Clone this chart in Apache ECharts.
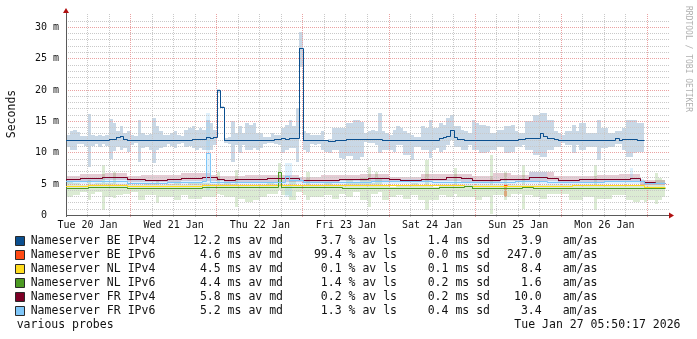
<!DOCTYPE html>
<html><head><meta charset="utf-8">
<script src="https://cdn.jsdelivr.net/npm/echarts@6/dist/echarts.min.js"></script>
<style>html,body{margin:0;padding:0;background:#fff}#c{width:697px;height:339px}</style>
</head><body><div id="c"></div>
<script>
const _ = null;
// time axis in hours since Tue 20 Jan 00:00; one value per hour starting at START_HOUR
const START_HOUR = 6;
const END_HOUR = 174;
const Y_MAX = 32.3;
const dayLabels = ['Tue 20 Jan','Wed 21 Jan','Thu 22 Jan','Fri 23 Jan','Sat 24 Jan','Sun 25 Jan','Mon 26 Jan'];
const yTickValues = [0, 5, 10, 15, 20, 25, 30];

const seriesNames = ['Nameserver BE IPv4','Nameserver BE IPv6','Nameserver NL IPv4','Nameserver NL IPv6','Nameserver FR IPv4','Nameserver FR IPv6'];
const seriesColors = ['#0b4f8f','#ff4a14','#ffdc1e','#4c9a23','#7d0026','#7fc6f8'];
const avgMedianMs = [12.2, 4.6, 4.5, 4.4, 5.8, 5.2];
const avgLossPct = [3.7, 99.4, 0.1, 1.4, 0.2, 1.3];
const sdMs = [1.4, 0.0, 0.1, 0.2, 0.2, 0.4];
const amas = [3.9, 247.0, 8.4, 1.6, 10.0, 3.4];
const footerLeft = 'various probes';
const footerRight = 'Tue Jan 27 05:50:17 2026';
const yAxisTitle = 'Seconds';
const watermark = 'RRDTOOL / TOBI OETIKER';

// hourly medians (ms)
const medBEv4 = [
11.93,11.93,11.93,11.93,12.04,12.04,12.04,12.04,12.04,12.04,12.04,12.04,
12.15,12.15,12.4,12.6,12.2,11.95,11.9,11.9,11.9,11.9,11.9,11.9,
11.9,11.9,11.9,11.9,12.04,12.04,12.04,12.04,12.04,12.04,12.04,12.15,
12.15,12.15,12.15,12.4,12.3,12.4,19.9,17.25,11.9,11.9,11.9,11.9,
11.9,11.9,11.9,12.0,12.0,12.0,12.0,12.0,12.0,12.0,12.15,12.15,
12.3,12.2,12.3,12.3,12.3,26.65,11.9,11.9,11.9,11.9,11.9,12.0,
12.0,11.85,11.85,12.0,12.0,12.0,12.1,12.1,12.1,12.1,12.15,12.15,
12.15,12.15,12.15,12.15,12.04,12.04,11.93,11.93,11.93,11.93,11.93,11.93,
11.93,11.93,11.93,12.04,12.04,12.04,12.04,12.04,12.25,12.4,12.6,13.5,
12.4,12.15,12.15,11.93,11.93,11.93,11.93,11.93,11.93,11.93,11.93,11.93,
11.93,11.93,12.04,12.04,12.0,12.04,12.15,12.15,12.35,12.35,12.35,12.35,
13.05,12.6,12.35,12.35,12.15,11.93,11.93,11.93,11.93,11.93,11.93,11.93,
11.93,11.93,11.93,12.04,12.04,12.04,12.04,12.04,12.04,12.25,12.04,12.15,
12.15,12.15,12.15,12.04,12.04,_,_,_,_,_,_,_];
const medBEv6 = [
_,_,_,_,_,_,_,_,_,_,_,_, _,_,_,_,_,_,_,_,_,_,_,_,
_,_,_,_,_,_,_,_,_,_,_,_, _,_,_,_,_,_,_,_,_,_,_,_,
_,_,_,_,_,_,_,_,_,_,_,_, _,_,_,_,_,_,_,_,_,_,_,_,
_,_,_,_,_,_,_,_,_,_,_,_, _,_,_,_,_,_,_,_,_,_,_,_,
_,_,_,_,_,_,_,_,_,_,_,_, _,_,_,_,_,_,_,_,_,_,_,_,
_,_,4.75,_,_,_,_,_,_,_,_,_, _,_,_,_,_,_,_,_,_,_,_,_,
_,_,_,_,_,_,_,_,_,_,_,_, _,_,_,_,_,_,_,_,_,_,_,_];
const medNLv4 = [
4.6,4.6,4.6,4.6,4.6,4.6,4.75,4.75,4.75,4.75,4.75,4.75,
4.75,4.75,4.75,4.75,4.75,4.6,4.6,4.6,4.6,4.6,4.6,4.6,
4.6,4.6,4.6,4.6,4.6,4.6,4.6,4.6,4.6,4.6,4.6,4.6,
4.6,4.6,4.72,4.72,4.72,4.72,4.72,4.72,4.72,4.72,4.72,4.72,
4.72,4.72,4.72,4.72,4.72,4.72,4.72,4.72,4.72,4.72,4.72,4.72,
4.72,4.72,4.72,4.72,4.72,4.72,4.72,4.72,4.72,4.72,4.72,4.72,
4.72,4.72,4.72,4.72,4.72,4.72,4.72,4.72,4.75,4.75,4.75,4.75,
4.75,4.75,4.75,4.75,4.75,4.75,4.75,4.75,4.75,4.75,4.75,4.75,
4.75,4.75,4.75,4.75,4.75,4.75,4.75,4.75,4.75,4.75,4.75,4.75,
4.75,4.75,4.75,4.7,4.7,4.7,4.7,4.7,4.7,4.7,4.7,4.7,
4.7,4.7,4.7,4.7,4.7,4.7,4.7,4.7,4.7,4.7,4.7,4.7,
4.7,4.7,4.7,4.7,4.7,4.7,4.7,4.7,4.7,4.8,4.8,4.8,
4.8,4.8,4.8,4.8,4.8,4.8,4.8,4.8,4.8,4.8,4.8,4.8,
4.8,4.8,4.8,4.8,4.8,4.5,4.5,4.5,4.5,4.5,4.5,_];
const medNLv6 = [
4.33,4.33,4.33,4.33,4.33,4.33,4.49,4.49,4.49,4.49,4.49,4.49,
4.49,4.49,4.49,4.49,4.49,4.33,4.33,4.33,4.33,4.33,4.33,4.33,
4.33,4.33,4.33,4.33,4.33,4.33,4.33,4.33,4.33,4.33,4.33,4.33,
4.33,4.33,4.49,4.49,4.49,4.49,4.4,4.4,4.4,4.4,4.4,4.4,
4.4,4.4,4.4,4.4,4.4,4.4,4.4,4.4,4.4,4.4,4.4,6.8,
4.4,4.4,4.4,4.4,4.4,4.4,4.4,4.4,4.4,4.4,4.4,4.4,
4.4,4.4,4.4,4.4,4.4,4.33,4.33,4.33,4.33,4.33,4.33,4.33,
4.33,4.33,4.33,4.33,4.33,4.33,4.33,4.33,4.33,4.33,4.33,4.33,
4.33,4.33,4.33,4.33,4.33,4.33,4.33,4.33,4.44,4.44,4.44,4.44,
4.44,4.44,4.44,4.6,4.6,4.33,4.33,4.33,4.33,4.33,4.33,4.33,
4.33,4.33,4.33,4.33,4.33,4.33,4.33,4.5,4.5,4.5,4.33,4.33,
4.33,4.33,4.33,4.33,4.33,4.33,4.33,4.33,4.33,4.33,4.33,4.33,
4.33,4.33,4.33,4.33,4.33,4.33,4.33,4.33,4.33,4.33,4.33,4.33,
4.33,4.33,4.33,4.33,4.33,4.3,4.3,4.3,4.3,4.3,4.3,_];
const medFRv4 = [
5.77,5.77,5.77,5.77,5.93,5.93,5.93,5.93,5.93,5.93,6.09,6.09,
6.09,6.09,6.09,6.09,6.09,5.77,5.77,5.77,5.77,5.77,5.66,5.66,
5.66,5.66,5.66,5.66,5.77,5.77,5.77,5.77,5.87,5.87,5.87,5.87,
5.87,5.87,6.09,6.09,6.09,6.09,5.77,5.77,5.6,5.6,5.6,5.77,
5.77,5.77,5.77,5.77,5.77,5.77,5.77,5.77,5.9,5.9,5.9,5.9,
5.9,5.9,5.9,5.9,5.9,5.55,5.55,5.55,5.55,5.66,5.66,5.66,
5.66,5.66,5.66,5.66,5.77,5.77,5.77,5.77,5.77,5.77,5.77,5.77,
5.87,5.87,5.87,5.87,5.87,5.87,5.72,5.72,5.72,5.6,5.6,5.6,
5.6,5.6,5.6,5.8,5.8,5.8,5.8,5.8,5.8,5.8,6.09,6.09,
6.09,6.09,5.87,5.87,5.87,5.66,5.66,5.66,5.55,5.55,5.55,5.55,
5.55,5.72,5.72,5.72,5.72,5.82,5.82,5.82,5.82,6.09,6.09,6.09,
6.09,6.09,5.87,5.87,5.87,5.66,5.66,5.66,5.66,5.66,5.66,5.77,
5.77,5.77,5.77,5.77,5.77,5.77,5.82,5.82,5.82,5.82,5.82,5.82,
5.82,5.9,5.9,5.9,5.4,5.2,5.2,5.2,5.1,5.1,5.1,_];
const medFRv6 = [
5.39,5.39,5.39,5.39,5.39,5.39,5.5,5.5,5.5,5.5,5.5,5.5,
5.5,5.5,5.5,5.5,5.5,5.13,5.13,5.13,5.13,5.13,5.13,5.13,
5.13,5.13,5.13,5.13,5.24,5.24,5.24,5.24,5.24,5.24,5.24,5.24,
5.24,5.24,5.4,9.92,5.34,5.34,5.34,5.34,5.24,5.24,5.24,5.24,
5.24,5.24,5.24,5.24,5.24,5.24,5.24,5.24,5.24,5.24,5.24,5.24,
5.24,6.19,5.55,5.55,5.55,5.55,5.3,5.3,5.3,5.3,5.3,5.3,
5.3,5.3,5.3,5.3,5.3,5.34,5.34,5.34,5.34,5.34,5.34,5.34,
5.34,5.39,5.39,5.39,5.39,5.39,5.39,5.39,5.39,5.39,5.39,5.39,
5.39,5.39,5.39,5.39,5.39,5.39,5.34,5.34,5.34,5.34,5.34,5.34,
5.34,5.34,5.34,5.34,5.34,5.24,5.24,5.24,5.24,5.24,5.24,5.24,
5.24,5.24,5.24,5.24,5.24,5.39,5.39,5.39,5.39,5.39,5.39,5.39,
5.39,5.39,5.24,5.24,5.24,5.24,5.24,5.24,5.24,5.24,5.24,5.24,
5.24,5.24,5.24,5.24,5.24,5.24,5.39,5.39,5.39,5.39,5.39,5.39,
5.39,5.39,5.45,5.45,5.45,5.1,5.1,5.1,5.1,5.1,5.1,_];

// hourly smoke ranges (ms): lower and upper edge
const smkLoBEv4 = [
11.0,10.45,10.5,11.35,11.35,11.1,7.8,11.1,11.35,11.0,11.35,11.1,
9.0,10.3,11.0,10.5,10.7,10.2,11.3,11.5,8.6,10.7,11.0,10.45,
8.3,10.45,10.7,11.0,11.35,11.1,10.7,11.35,11.5,11.0,11.1,10.8,
10.45,10.7,10.5,10.45,10.45,11.2,19.6,17.1,11.6,11.4,8.6,11.2,
9.9,11.2,10.45,10.45,10.7,10.45,10.7,11.35,11.5,11.5,11.35,11.2,
9.9,10.45,10.7,10.7,8.6,23.7,10.45,10.2,11.35,11.2,11.35,10.45,
10.2,9.9,10.45,10.45,9.2,9.0,9.5,9.5,8.85,8.85,9.4,11.8,
11.5,11.5,11.2,9.9,10.45,10.45,10.45,10.2,11.2,11.2,9.6,9.6,
8.85,10.9,10.9,10.45,10.45,9.1,10.45,10.7,10.2,10.45,11.2,12.0,
11.0,11.0,10.45,10.45,11.2,10.45,10.45,9.9,9.9,10.2,10.45,10.45,
11.0,11.0,9.9,9.9,10.2,11.0,11.0,11.2,10.45,10.45,9.6,9.6,
9.4,9.4,10.45,10.45,11.0,11.0,11.5,11.2,11.2,9.9,11.2,10.45,
10.45,11.0,11.0,11.0,8.85,10.7,10.7,11.0,11.0,11.35,11.35,10.45,
9.4,9.4,9.9,10.2,10.2,_,_,_,_,_,_,_];
const smkHiBEv4 = [
12.9,13.5,13.6,13.3,12.7,12.7,16.2,12.9,12.7,12.9,12.7,12.9,
15.4,14.7,13.4,14.2,13.1,13.5,12.9,12.7,15.3,13.1,12.8,13.0,
15.5,14.2,13.4,12.9,12.8,13.1,13.4,12.9,12.7,13.6,13.9,14.2,
13.6,13.9,13.6,15.2,14.7,13.6,20.2,17.4,12.3,12.5,15.1,13.1,
14.2,13.1,14.7,14.5,14.7,13.1,13.1,12.6,12.5,13.1,12.9,12.9,
13.9,14.5,15.2,14.2,17.1,29.3,13.4,13.1,12.8,12.8,12.9,13.4,
12.0,12.2,13.9,13.9,13.9,13.9,14.7,14.7,15.2,15.2,14.9,13.1,
13.4,13.6,13.4,16.3,13.4,13.1,12.8,13.6,14.3,14.0,13.4,13.1,
12.9,12.5,12.5,14.2,14.0,15.2,13.9,13.9,14.7,14.5,15.5,16.0,
14.2,14.2,13.6,13.4,13.1,15.2,14.7,14.5,14.5,14.2,13.1,13.1,
13.6,13.6,14.2,14.2,14.4,13.4,13.1,13.1,15.0,15.0,16.0,16.0,
16.3,16.3,15.2,15.2,13.4,13.1,12.8,13.4,13.4,14.4,13.4,14.7,
14.7,13.1,13.1,13.1,15.2,13.9,13.9,13.1,13.1,13.4,13.4,13.9,
15.2,15.2,15.2,14.7,14.7,_,_,_,_,_,_,_];
const smkLoBEv6 = [
_,_,_,_,_,_,_,_,_,_,_,_, _,_,_,_,_,_,_,_,_,_,_,_,
_,_,_,_,_,_,_,_,_,_,_,_, _,_,_,_,_,_,_,_,_,_,_,_,
_,_,_,_,_,_,_,_,_,_,_,_, _,_,_,_,_,_,_,_,_,_,_,_,
_,_,_,_,_,_,_,_,_,_,_,_, _,_,_,_,_,_,_,_,_,_,_,_,
_,_,_,_,_,_,_,_,_,_,_,_, _,_,_,_,_,_,_,_,_,_,_,_,
_,_,3.0,_,_,_,_,_,_,_,_,_, _,_,_,_,_,_,_,_,_,_,_,_,
_,_,_,_,_,_,_,_,_,_,_,_, _,_,_,_,_,_,_,_,_,_,_,_];
const smkHiBEv6 = [
_,_,_,_,_,_,_,_,_,_,_,_, _,_,_,_,_,_,_,_,_,_,_,_,
_,_,_,_,_,_,_,_,_,_,_,_, _,_,_,_,_,_,_,_,_,_,_,_,
_,_,_,_,_,_,_,_,_,_,_,_, _,_,_,_,_,_,_,_,_,_,_,_,
_,_,_,_,_,_,_,_,_,_,_,_, _,_,_,_,_,_,_,_,_,_,_,_,
_,_,_,_,_,_,_,_,_,_,_,_, _,_,_,_,_,_,_,_,_,_,_,_,
_,_,4.9,_,_,_,_,_,_,_,_,_, _,_,_,_,_,_,_,_,_,_,_,_,
_,_,_,_,_,_,_,_,_,_,_,_, _,_,_,_,_,_,_,_,_,_,_,_];
const smkLoNLv6 = [
3.0,3.0,3.3,3.3,3.8,3.8,2.5,3.5,3.8,3.8,0.9,3.0,
3.0,2.8,3.3,3.3,3.5,3.5,3.8,3.8,2.5,2.5,3.3,3.3,
3.3,2.0,3.0,3.0,3.0,3.0,2.5,2.5,3.3,3.3,2.7,2.7,
2.7,2.7,3.0,3.0,2.9,2.9,3.5,3.3,3.0,3.0,3.0,1.4,
2.7,2.7,2.2,2.2,2.5,2.5,3.0,3.0,3.5,3.5,3.5,4.1,
3.3,3.3,2.5,2.5,3.8,3.8,3.3,2.5,3.0,3.0,3.0,3.0,
3.3,3.3,2.7,2.7,3.5,3.5,3.0,3.0,3.8,3.8,2.5,2.5,
1.4,3.5,3.5,3.8,2.5,2.5,3.0,3.0,3.3,3.3,2.7,2.7,
3.3,3.3,2.5,2.5,0.9,2.5,2.5,2.5,3.3,3.3,3.0,3.0,
3.5,3.0,3.0,3.0,3.0,3.0,2.5,2.5,3.0,3.0,0.3,3.3,
3.3,3.3,2.5,3.0,3.5,3.5,3.5,1.1,3.3,3.3,3.0,3.0,
2.7,2.7,3.5,3.5,3.5,3.5,3.5,3.5,2.5,2.5,2.5,2.5,
3.0,3.0,3.0,0.9,2.7,2.7,2.7,2.7,3.3,3.3,3.3,3.3,
2.5,2.5,2.2,2.2,2.5,2.2,2.5,2.5,1.9,2.5,3.0,_];
const smkHiNLv6 = [
5.4,5.4,5.2,5.2,4.9,4.9,5.7,5.0,5.2,5.2,8.0,5.2,
5.2,6.9,5.0,5.0,5.0,5.0,4.9,4.9,4.9,4.9,5.2,5.2,
5.0,5.6,4.9,4.9,5.0,5.0,5.4,5.4,4.9,4.9,5.2,5.2,
5.2,5.2,5.2,5.2,5.0,5.0,7.0,5.0,5.2,5.2,5.0,7.3,
4.9,4.9,4.9,4.9,4.9,4.9,4.9,4.9,5.2,5.2,5.0,8.3,
4.9,4.9,5.6,5.6,4.9,4.9,4.9,7.0,4.9,4.9,4.9,4.9,
5.2,5.2,4.9,4.9,4.9,4.9,5.7,5.7,5.2,5.2,6.0,6.0,
7.8,5.2,7.0,6.0,4.9,4.9,4.6,4.6,4.9,4.9,4.9,4.9,
5.2,5.2,4.9,4.9,8.8,4.9,4.6,4.6,4.9,4.9,4.9,4.9,
7.5,4.9,4.9,4.9,4.9,4.9,4.9,4.9,4.9,4.9,9.6,4.9,
4.9,4.9,7.0,5.0,4.9,4.9,4.9,8.0,4.9,4.9,4.9,4.9,
4.9,4.9,4.9,4.9,4.9,4.9,4.9,4.9,4.9,4.9,4.9,4.9,
4.9,4.9,4.9,8.0,4.9,4.9,4.9,4.9,4.9,4.9,4.9,4.9,
4.9,4.9,4.9,4.9,5.0,5.2,5.0,5.0,6.7,6.0,5.7,_];
const smkLoFRv4 = [
5.45,5.45,5.45,5.45,5.45,5.45,5.45,5.45,5.45,5.45,5.6,5.6,
5.6,5.6,5.6,5.6,5.6,5.35,5.35,5.35,5.35,5.35,5.35,5.35,
5.35,5.35,5.35,5.35,5.35,5.35,5.35,5.35,5.5,5.5,5.5,5.5,
5.5,5.5,5.5,5.5,5.5,5.5,5.5,5.5,5.4,5.4,5.4,5.4,
5.4,5.4,5.4,5.4,5.4,5.4,5.4,5.4,5.4,5.4,5.4,5.4,
5.4,5.4,5.4,5.4,5.4,5.3,5.3,5.3,5.3,5.3,5.3,5.3,
5.3,5.3,5.3,5.3,5.45,5.45,5.45,5.45,5.45,5.45,5.45,5.45,
5.45,5.45,5.45,5.45,5.45,5.45,5.45,5.45,5.45,5.35,5.35,5.35,
5.35,5.35,5.35,5.5,5.5,5.5,5.5,5.5,5.5,5.5,5.5,5.5,
5.5,5.5,5.35,5.35,5.35,5.35,5.35,5.35,5.35,5.35,5.35,5.35,
5.35,5.5,5.5,5.5,5.5,5.5,5.5,5.5,5.5,5.5,5.5,5.5,
5.5,5.5,5.5,5.5,5.5,5.4,5.4,5.4,5.4,5.4,5.4,5.4,
5.4,5.4,5.4,5.4,5.4,5.4,5.4,5.4,5.4,5.4,5.4,5.4,
5.4,5.4,5.4,5.4,4.9,4.9,4.9,4.9,4.9,4.9,4.9,_];
const smkHiFRv4 = [
6.3,6.3,6.3,6.3,6.6,6.6,6.6,6.6,6.6,6.6,6.6,6.8,
6.8,6.8,6.8,6.8,6.8,6.3,6.3,6.3,6.3,6.4,6.4,6.4,
6.4,6.4,6.5,6.5,6.5,6.5,6.5,6.5,6.7,6.7,6.7,6.7,
6.7,6.7,6.7,6.7,6.4,6.4,6.3,6.3,6.3,6.3,6.3,6.3,
6.3,6.3,6.45,6.45,6.45,6.45,6.45,6.45,6.45,6.45,6.45,6.5,
6.5,6.5,6.5,6.5,6.5,6.2,6.2,6.2,6.2,6.2,6.2,6.4,
6.4,6.4,6.4,6.4,6.4,6.4,6.4,6.4,6.4,6.4,6.6,6.6,
6.6,6.6,6.6,6.6,6.6,6.6,6.2,6.2,6.2,6.2,6.2,6.2,
6.2,6.2,6.2,6.6,6.6,6.6,6.6,6.6,6.6,6.6,6.6,6.6,
6.6,6.6,6.6,6.6,6.6,6.3,6.3,6.3,6.3,6.3,6.3,6.8,
6.8,6.8,6.8,6.8,6.5,6.5,6.5,6.5,6.5,7.0,7.0,7.0,
7.0,7.0,7.0,7.0,6.3,6.3,6.3,6.3,6.3,6.3,6.3,6.3,
6.3,6.3,6.3,6.3,6.5,6.5,6.5,6.5,6.5,6.5,6.6,6.6,
6.6,6.6,6.6,6.6,5.6,5.6,5.6,5.6,5.6,5.6,5.6,_];
const smkLoFRv6 = [
4.95,4.95,4.95,4.95,4.95,4.95,5.1,5.1,5.1,5.1,5.1,5.1,
5.1,5.1,5.1,5.1,5.1,4.8,4.8,4.8,4.8,4.8,4.8,4.8,
4.8,4.8,4.8,4.8,4.9,4.9,4.9,4.9,4.9,4.9,4.9,4.9,
4.9,4.9,4.9,4.1,4.9,4.9,4.9,4.9,4.9,4.9,4.9,4.9,
4.9,4.9,4.9,4.9,4.9,4.9,4.9,4.9,4.9,4.9,4.9,4.9,
4.9,3.0,3.0,5.0,5.0,5.0,4.9,4.9,4.9,4.9,4.9,4.9,
4.9,4.9,4.9,4.9,4.9,4.9,4.9,4.9,4.9,4.9,4.9,4.9,
4.9,5.0,5.0,5.0,5.0,5.0,5.0,5.0,5.0,5.0,5.0,5.0,
5.0,5.0,5.0,5.0,5.0,5.0,4.9,4.9,4.9,4.9,4.9,4.9,
4.9,4.9,4.9,4.9,4.9,4.9,4.9,4.9,4.9,4.9,4.9,4.9,
4.9,4.9,4.9,4.9,4.9,5.0,5.0,5.0,5.0,5.0,5.0,5.0,
5.0,5.0,4.9,4.9,4.9,4.9,4.9,4.9,4.9,4.9,4.9,4.9,
4.9,4.9,4.9,4.9,4.9,4.9,5.0,5.0,5.0,5.0,5.0,5.0,
5.0,5.1,5.0,5.0,5.0,4.8,4.8,4.8,4.8,4.8,4.8,_];
const smkHiFRv6 = [
5.9,5.9,5.9,5.9,5.9,5.9,6.0,6.0,6.0,6.0,6.0,6.0,
6.0,6.0,6.0,6.0,6.0,5.6,5.6,5.6,5.6,5.6,5.6,5.6,
5.6,5.6,5.6,5.6,5.7,5.7,5.7,5.7,5.7,5.7,5.7,5.7,
5.7,5.7,6.0,16.3,5.8,5.8,5.8,5.8,5.7,5.7,5.7,5.7,
5.7,5.7,5.7,5.7,5.7,5.7,5.7,5.7,5.7,5.7,5.7,5.7,
5.7,8.3,8.3,6.2,6.2,6.2,5.7,5.7,5.7,5.7,5.7,5.7,
5.7,5.7,5.7,5.7,5.7,5.8,5.8,5.8,5.8,5.8,5.8,5.8,
5.8,5.8,5.8,5.8,5.8,5.8,5.8,5.8,5.8,5.8,5.8,5.8,
5.8,5.8,5.8,5.8,5.8,5.8,5.8,5.8,5.8,5.8,5.8,5.8,
5.8,5.8,5.8,5.8,5.8,5.7,5.7,5.7,5.7,5.7,5.7,5.7,
5.7,5.7,5.7,5.7,5.7,5.8,5.8,5.8,5.8,7.0,7.0,7.0,
7.0,7.0,5.7,5.7,5.7,5.7,5.7,5.7,5.7,5.7,5.7,5.7,
5.7,5.7,5.7,5.7,5.7,5.7,5.8,5.8,5.8,5.8,5.8,5.8,
5.8,7.6,5.9,5.9,5.9,5.4,5.4,5.4,5.4,5.4,5.4,_];

const allArrays = {medBEv4, medBEv6, medNLv4, medNLv6, medFRv4, medFRv6, smkLoBEv4, smkHiBEv4, smkLoBEv6, smkHiBEv6, smkLoNLv6, smkHiNLv6, smkLoFRv4, smkHiFRv4, smkLoFRv6, smkHiFRv6};
Object.keys(allArrays).forEach(k => { if (allArrays[k].length !== END_HOUR - START_HOUR) throw new Error(k + ' has length ' + allArrays[k].length); });

const MONO = '"DejaVu Sans Mono", monospace';
const GRID_STYLES = [
  { stroke: '#c9c9c9', lineDash: [1, 1] },   // 0 minor horizontal
  { stroke: '#eaa2a2', lineDash: [1, 1] },   // 1 major horizontal
  { stroke: '#c9c9c9', lineDash: [1, 1] },   // 2 minor vertical
  { stroke: '#eaa2a2', lineDash: [1, 1] },   // 3 major vertical
  { stroke: '#5a5a5a', lineDash: null },     // 4 x axis line
  { stroke: '#5a5a5a', lineDash: null }      // 5 y axis line
];

function crisp(v) { return Math.floor(v) + 0.5; }

// grid items: [x, y, kind]
const gridItems = [];
for (let v = 1; v <= 31; v++) if (v % 5 !== 0) gridItems.push([START_HOUR, v, 0]);
for (let h = START_HOUR + 6; h < END_HOUR; h += 6) if (h % 24 !== 0) gridItems.push([h, 0, 2]);
for (let v = 5; v <= 30; v += 5) gridItems.push([START_HOUR, v, 1]);
for (let h = 24; h < END_HOUR; h += 24) gridItems.push([h, 0, 3]);
gridItems.push([START_HOUR, 0, 4]);
gridItems.push([START_HOUR, 0, 5]);

function gridRender(params, api) {
  const x = api.value(0), y = api.value(1), kind = api.value(2);
  const st = GRID_STYLES[kind];
  let shape;
  if (kind === 0 || kind === 1 || kind === 4) {
    const p = api.coord([START_HOUR, y]), q = api.coord([END_HOUR, y]);
    const yy = crisp(p[1]);
    shape = { x1: Math.round(p[0]), y1: yy, x2: Math.round(q[0]), y2: yy };
  } else {
    const p = api.coord([x, 0]), q = api.coord([x, Y_MAX]);
    const xx = crisp(p[0]);
    shape = { x1: xx, y1: Math.round(p[1]) + 1, x2: xx, y2: Math.round(q[1]) };
  }
  return { type: 'line', shape: shape, style: { stroke: st.stroke, lineWidth: 1, lineDash: st.lineDash, fill: null } };
}

function medianItems(values) {
  const out = [];
  values.forEach((v, k) => {
    if (v == null) return;
    const next = (k + 1 < values.length && values[k + 1] != null) ? values[k + 1] : -1;
    out.push([START_HOUR + k, START_HOUR + k + 1, v, next]);
  });
  return out;
}
function medianSeries(name, values, color) {
  return {
    name: name, type: 'custom', z: 3, silent: true, clip: true,
    encode: { x: [0, 1], y: [2] },
    data: medianItems(values),
    renderItem: function (params, api) {
      const a = api.coord([api.value(0), api.value(2)]);
      const b = api.coord([api.value(1), api.value(2)]);
      const y = crisp(a[1]);
      const x0 = Math.round(a[0]), x1 = Math.round(b[0]);
      const pts = [[x0, y], [x1 + 0.5, y]];
      const vn = api.value(3);
      if (vn >= 0) {
        const c = api.coord([api.value(1), vn]);
        const yn = crisp(c[1]);
        if (yn !== y) pts.push([x1 + 0.5, yn]);
      }
      return { type: 'polyline', shape: { points: pts }, style: { stroke: color, lineWidth: 1, fill: null } };
    }
  };
}

function smokeData(lo, hi) {
  const out = [];
  lo.forEach((l, k) => {
    if (l == null || hi[k] == null) return;
    out.push([START_HOUR + k, START_HOUR + k + 1, l, hi[k]]);
  });
  return out;
}
function smokeSeries(name, lo, hi, color, opacity) {
  return {
    name: name + ' smoke', type: 'custom', z: 1, silent: true, clip: true,
    encode: { x: [0, 1], y: [2, 3] },
    data: smokeData(lo, hi),
    renderItem: function (params, api) {
      const a = api.coord([api.value(0), api.value(3)]);
      const b = api.coord([api.value(1), api.value(2)]);
      const x0 = Math.round(a[0]), x1 = Math.round(b[0]);
      const y0 = Math.round(a[1]);
      let y1 = Math.round(b[1]);
      if (y1 - y0 < 1) y1 = y0 + 1;
      return { type: 'rect', shape: { x: x0, y: y0, width: x1 - x0, height: y1 - y0 }, style: { fill: color, opacity: opacity } };
    }
  };
}

const medians = [medBEv4, medBEv6, medNLv4, medNLv6, medFRv4, medFRv6];
const series = [
  smokeSeries(seriesNames[0], smkLoBEv4, smkHiBEv4, seriesColors[0], 0.22),
  smokeSeries(seriesNames[1], smkLoBEv6, smkHiBEv6, seriesColors[1], 0.45),
  smokeSeries(seriesNames[3], smkLoNLv6, smkHiNLv6, seriesColors[3], 0.2),
  smokeSeries(seriesNames[4], smkLoFRv4, smkHiFRv4, seriesColors[4], 0.2),
  smokeSeries(seriesNames[5], smkLoFRv6, smkHiFRv6, seriesColors[5], 0.25),
  { name: 'grid', type: 'custom', z: 2, silent: true, clip: false,
    encode: { x: 0, y: 1 }, data: gridItems, renderItem: gridRender }
];
medians.forEach((m, i) => series.push(medianSeries(seriesNames[i], m, seriesColors[i])));

const graphics = [];
const ROW_Y0 = 241, ROW_DY = 14.05, LFONT = '11.5px ' + MONO;
function txt(text, x, y, align) {
  return { type: 'text', silent: true, style: { text: text, x: x, y: y, font: LFONT, fill: '#111', align: align, verticalAlign: 'middle' } };
}
seriesNames.forEach((name, i) => {
  const y = ROW_Y0 + i * ROW_DY;
  graphics.push({ type: 'rect', silent: true, shape: { x: 15.5, y: Math.round(y) - 4.5, width: 9, height: 9 }, style: { fill: seriesColors[i], stroke: '#2a2a2a', lineWidth: 1 } });
  graphics.push(txt(name, 30.7, y, 'left'));
  graphics.push(txt(avgMedianMs[i].toFixed(1) + ' ms av md', 283, y, 'right'));
  graphics.push(txt(avgLossPct[i].toFixed(1) + ' % av ls', 397, y, 'right'));
  graphics.push(txt(sdMs[i].toFixed(1) + ' ms sd', 490, y, 'right'));
  graphics.push(txt(amas[i].toFixed(1), 541.7, y, 'right'));
  graphics.push(txt('am/as', 562.7, y, 'left'));
});
graphics.push(txt(footerLeft, 16.7, ROW_Y0 + 6 * ROW_DY - 0.5, 'left'));
graphics.push(txt(footerRight, 680.5, ROW_Y0 + 6 * ROW_DY - 0.5, 'right'));
graphics.push({ type: 'text', silent: true, x: 12, y: 114, rotation: Math.PI / 2,
  style: { text: yAxisTitle, font: LFONT, fill: '#111', align: 'center', verticalAlign: 'middle' } });
graphics.push({ type: 'text', silent: true, x: 688, y: 59, rotation: -Math.PI / 2,
  style: { text: watermark, font: '8px ' + MONO, fill: '#b0b0b0', align: 'center', verticalAlign: 'middle' } });

const chart = echarts.init(document.getElementById('c'), null, { renderer: 'canvas', width: 697, height: 339 });
chart.setOption({
  animation: false,
  backgroundColor: '#ffffff',
  grid: { left: 66, right: 28, top: 13, bottom: 123.5, containLabel: false, outerBoundsMode: 'none' },
  xAxis: {
    type: 'value', min: START_HOUR, max: END_HOUR, interval: 6,
    axisLine: { show: true, onZero: false, symbol: ['none', 'triangle'], symbolSize: [6, 5], symbolOffset: [0, 2.5], lineStyle: { color: '#b01010', width: 0 } },
    axisTick: { show: false }, splitLine: { show: false },
    axisLabel: { show: true, margin: 5, fontFamily: MONO, fontSize: 10, color: '#111',
      formatter: function (v) { const d = (v - 12) / 24; return (Number.isInteger(d) && d >= 0 && d < dayLabels.length) ? dayLabels[d] : ''; } }
  },
  yAxis: {
    type: 'value', min: 0, max: Y_MAX, interval: 5,
    axisLine: { show: true, onZero: false, symbol: ['none', 'triangle'], symbolSize: [6, 5], symbolOffset: [0, 2.5], lineStyle: { color: '#b01010', width: 0 } },
    axisTick: { show: false }, splitLine: { show: false }, showMaxLabel: false,
    axisLabel: { show: true, margin: 7, fontFamily: MONO, fontSize: 10, color: '#111',
      formatter: function (v) { if (yTickValues.indexOf(v) < 0) return ''; return v === 0 ? '0  ' : v + ' m'; } }
  },
  graphic: graphics,
  series: series
});
</script>
</body></html>
